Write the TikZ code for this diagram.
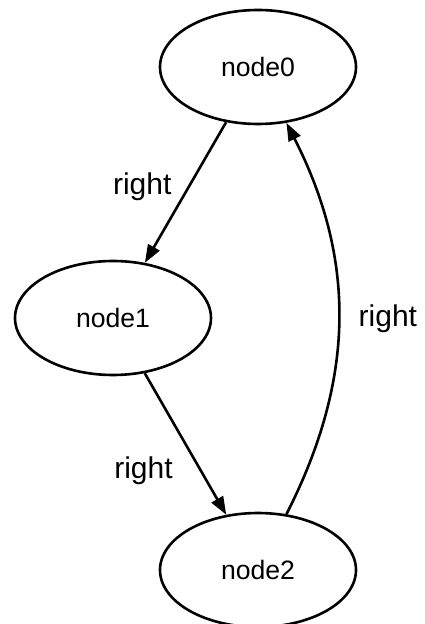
\documentclass[tikz,border=0pt]{standalone}
\usepackage{fontspec}
\setmainfont{Liberation Sans}
\usetikzlibrary{positioning}
\usetikzlibrary{arrows.meta}
\usetikzlibrary{shapes.geometric}

\begin{document}
\begin{tikzpicture}[on grid,
    blob/.style={ellipse,draw,line width=1.3pt,minimum width=98pt,minimum height=57pt,inner sep=0pt,
      font=\fontsize{13.3}{16}\selectfont},
    tag/.style={inner sep=0pt,font=\fontsize{15}{18}\selectfont},
    link/.style={-{Triangle[length=9pt,width=6.5pt]},line width=1.3pt}]
        \useasboundingbox (-129pt,33.5pt) rectangle (83pt,-278.5pt);
        \node[blob] (n0) {node0};
        \node[blob] (n1) [below left=125.5pt and 72.5pt of n0] {node1};
        \node[blob] (n2) [below=251.5pt of n0] {node2};

        \path[link]
        (n0)  edge                 node[tag,pos=0.46,anchor=east,xshift=-8pt]    {right} (n1)
        (n1)  edge                 node[tag,pos=0.69,anchor=east,xshift=-13.5pt] {right} (n2)
        (n2)  edge [bend right=27] node[tag,anchor=west,xshift=9.5pt]            {right} (n0);
      \end{tikzpicture}
\end{document}
